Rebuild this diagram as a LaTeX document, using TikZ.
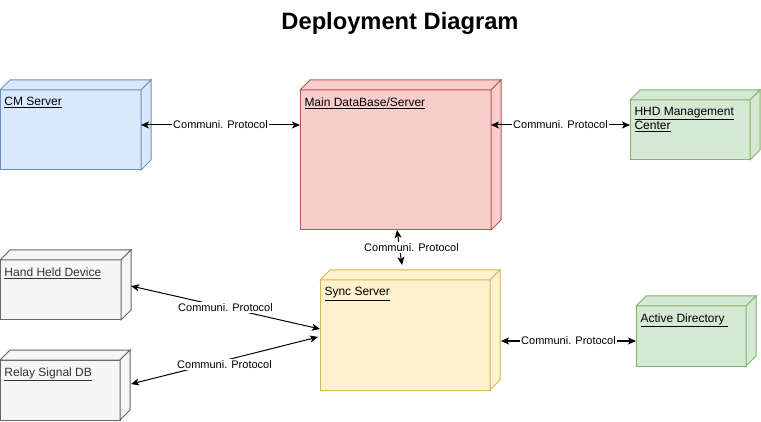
\documentclass[tikz,border=0pt]{standalone}
\usepackage{fontspec}
\setmainfont{Liberation Sans}
\usetikzlibrary{arrows.meta}

\definecolor{blueFill}{HTML}{DAE8FC}
\definecolor{blueLine}{HTML}{6C8EBF}
\definecolor{redFill}{HTML}{F8CECC}
\definecolor{redLine}{HTML}{B85450}
\definecolor{greenFill}{HTML}{D5E8D4}
\definecolor{greenLine}{HTML}{82B366}
\definecolor{grayFill}{HTML}{F5F5F5}
\definecolor{grayLine}{HTML}{666666}
\definecolor{grayText}{HTML}{333333}
\definecolor{yellowFill}{HTML}{FFF2CC}
\definecolor{yellowLine}{HTML}{D6B656}

% name, face style, x, y, width, height, text
\newcommand\devicebox[7]{%
  \node[device,#2,minimum width=#5pt,minimum height=#6pt] (#1) at (#3,#4) {};
  \filldraw[#2] (#1.north west) -- ++(10,-10)
    -- ([shift={(10,-10)}]#1.north east) -- (#1.north east) -- cycle;
  \filldraw[#2] (#1.north east) -- ++(10,-10)
    -- ([shift={(10,-10)}]#1.south east) -- (#1.south east) -- cycle;
  \node[#2,devlabel] (#1-text) at ([shift={(4,7)}]#1.north west) {#7};
}

\begin{document}
\begin{tikzpicture}[
  x=1pt,
  y=-1pt,
  line width=1pt,
  device/.style={
    draw,
    rectangle,
    inner sep=0pt,
    outer sep=0pt
  },
  devlabel/.style={
    draw=none,
    fill=none,
    anchor=north west,
    inner sep=0pt,
    align=left,
    font=\fontsize{12}{14}\selectfont
  },
  blueface/.style={fill=blueFill,draw=blueLine},
  redface/.style={fill=redFill,draw=redLine},
  greenface/.style={fill=greenFill,draw=greenLine},
  grayface/.style={fill=grayFill,draw=grayLine,text=grayText},
  yellowface/.style={fill=yellowFill,draw=yellowLine},
  link/.style={
    <->,
    >={Stealth[length=8pt,width=7pt,inset=2pt]},
    draw=black
  },
  proto/.style={
    fill=white,
    inner sep=1pt,
    font=\fontsize{11}{13}\selectfont
  }
]
  \useasboundingbox (0,0) rectangle (761,422);

  \node[font=\bfseries\fontsize{23.7}{28}\selectfont,anchor=base] (title)
    at (400,30) {Deployment Diagram};

  \devicebox{cm}{blueface}{70.5}{130}{141}{80}{\underline{CM Server}}
  \devicebox{main}{redface}{395.5}{160}{191}{140}{\underline{Main DataBase/Server}}
  \devicebox{hhd}{greenface}{690}{130}{120}{60}{\underline{HHD Management}\\\underline{Center}}
  \devicebox{hand}{grayface}{60.5}{290}{121}{60}{\underline{Hand Held Device}}
  \devicebox{relay}{grayface}{60}{390}{120}{60}{\underline{Relay Signal DB}}
  \devicebox{sync}{yellowface}{405}{335}{170}{110}{\underline{Sync Server}}
  \devicebox{ad}{greenface}{691}{336}{110}{60}{\underline{Active Directory\ }}

  \draw[link] ([yshift=5pt]cm.east) --
    node[proto] (cm-main) {Communi. Protocol} ([yshift=35pt]main.west);
  \draw[link] ([yshift=35pt]main.east) --
    node[proto] (main-hhd) {Communi. Protocol} ([yshift=5pt]hhd.west);
  \draw[link] ([xshift=1.5pt]main.south) --
    node[proto,xshift=12pt] (main-sync) {Communi. Protocol}
    ([shift={(-3pt,15pt)}]sync.north);
  \draw[link] ([shift={(10pt,4pt)}]hand.east) --
    node[proto] (hand-sync) {Communi. Protocol} ([yshift=6pt]sync.west);
  \draw[link] ([shift={(11pt,6pt)}]relay.east) --
    node[proto,yshift=-4pt] (relay-sync) {Communi. Protocol}
    ([shift={(-2pt,-2pt)}]sync.west);
  \draw[link] ([shift={(11pt,-6pt)}]sync.east) --
    node[proto] (sync-ad) {Communi. Protocol} ([yshift=-5pt]ad.west);
\end{tikzpicture}
\end{document}
